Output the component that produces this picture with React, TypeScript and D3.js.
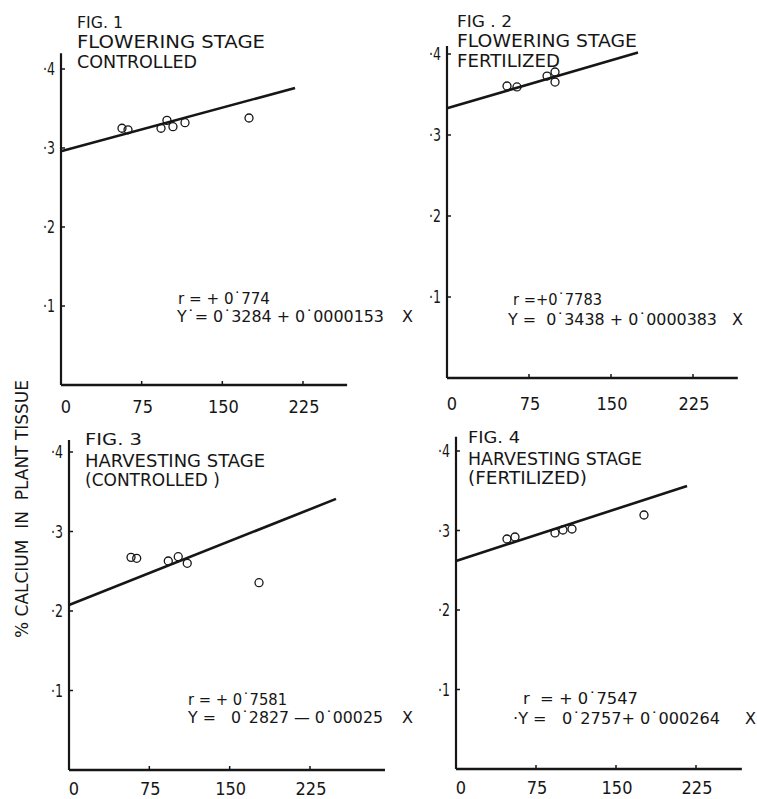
import React from "react";
import * as d3 from "d3";

// ---------- data ----------
const xTicks = [0, 75, 150, 225];
const xTickLabels = ["0", "75", "150", "225"];
const yTicks = [0.1, 0.2, 0.3, 0.4];
const yTickLabels = ["·1", "·2", "·3", "·4"];

const fig1X = [56.7, 62.3, 93, 98.5, 104.1, 115.3, 174.8];
const fig1Y = [0.325, 0.323, 0.325, 0.335, 0.327, 0.332, 0.338];
const fig1FitX = [0, 217.6];
const fig1FitY = [0.296, 0.376];

const fig2X = [54.9, 64.0, 91.5, 98.8, 98.8];
const fig2Y = [0.3605, 0.3593, 0.3728, 0.3778, 0.3654];
const fig2FitX = [0, 174.7];
const fig2FitY = [0.333, 0.402];

const fig3X = [57.9, 63.2, 92.7, 102.0, 110.4, 177.4];
const fig3Y = [0.2675, 0.2663, 0.2629, 0.2683, 0.26, 0.2356];
const fig3FitX = [0, 249.3];
const fig3FitY = [0.2075, 0.341];

const fig4X = [47.8, 55.3, 92.8, 100.3, 108.75, 176.25];
const fig4Y = [0.2893, 0.2918, 0.2969, 0.3006, 0.3019, 0.3195];
const fig4FitX = [0, 216.6];
const fig4FitY = [0.2616, 0.356];

const fig1Title = ["FIG. 1", "FLOWERING  STAGE", "CONTROLLED"];
const fig2Title = ["FIG . 2", "FLOWERING STAGE", "FERTILIZED"];
const fig3Title = ["FIG. 3", "HARVESTING STAGE", "(CONTROLLED )"];
const fig4Title = ["FIG. 4", "HARVESTING STAGE", "(FERTILIZED)"];

const eqR = ["r = + 0˙774", "r =+0˙7783", "r = + 0˙7581", "r  = + 0˙7547"];
const eqY = [
  "Y˙= 0˙3284 + 0˙0000153",
  "Y =  0˙3438 + 0˙0000383",
  "Y =   0˙2827 — 0˙00025",
  "·Y =   0˙2757+ 0˙000264",
];
const yAxisLabel = "% CALCIUM  IN  PLANT TISSUE";

// ---------- layout ----------
const layout = [
  { x0: 61, x225: 303, y0: 385, y04: 69, xMax: 266, yMax: 0.42, xLabelBase: 413,
    titleX: 77, titleBase: [28, 48, 68], titleW: [46, 188, 120],
    eqX: [178, 177], eqBase: [304, 322], eqW: [92, 207], xMarkX: 402 },
  { x0: 447, x225: 693, y0: 378, y04: 54, xMax: 266, yMax: 0.41, xLabelBase: 410,
    titleX: 457, titleBase: [27, 47, 67], titleW: [55, 180, 103],
    eqX: [513, 508], eqBase: [305, 325], eqW: [89, 209], xMarkX: 732 },
  { x0: 69, x225: 310, y0: 770, y04: 452, xMax: 295, yMax: 0.415, xLabelBase: 795,
    titleX: 85, titleBase: [445, 467, 486], titleW: [57, 180, 135],
    eqX: [188, 188], eqBase: [705, 723], eqW: [99, 195], xMarkX: 402 },
  { x0: 456, x225: 696, y0: 769, y04: 451, xMax: 268, yMax: 0.418, xLabelBase: 794,
    titleX: 468, titleBase: [443, 465, 484], titleW: [52, 174, 119],
    eqX: [523, 513], eqBase: [704, 724], eqW: [115, 207], xMarkX: 745 },
];

const figs = [
  { xs: fig1X, ys: fig1Y, fx: fig1FitX, fy: fig1FitY, title: fig1Title },
  { xs: fig2X, ys: fig2Y, fx: fig2FitX, fy: fig2FitY, title: fig2Title },
  { xs: fig3X, ys: fig3Y, fx: fig3FitX, fy: fig3FitY, title: fig3Title },
  { xs: fig4X, ys: fig4Y, fx: fig4FitX, fy: fig4FitY, title: fig4Title },
];

const FONT = "'DejaVu Sans', Arial, sans-serif";
const INK = "#161616";

function Panel({ i }: { i: number }) {
  const L = layout[i];
  const F = figs[i];
  const x = d3.scaleLinear().domain([0, 225]).range([L.x0, L.x225]);
  const y = d3.scaleLinear().domain([0, 0.4]).range([L.y0, L.y04]);
  const line = d3
    .line<number>()
    .x((d) => x(F.fx[d]))
    .y((d) => y(F.fy[d]));
  return (
    <g>
      {/* axes */}
      <line x1={x(0)} x2={x(0)} y1={y(0)} y2={y(L.yMax)} stroke={INK} strokeWidth={2.2} />
      <line x1={x(0)} x2={x(L.xMax)} y1={y(0)} y2={y(0)} stroke={INK} strokeWidth={2.4} />
      {yTicks.map((t, k) => (
        <g key={"yt" + k}>
          <line x1={x(0)} x2={x(0) + 4} y1={y(t)} y2={y(t)} stroke={INK} strokeWidth={1.5} />
          <text
            x={x(0) - 6}
            y={y(t) + 6}
            textAnchor="end"
            fontFamily={FONT}
            fontSize={17}
            fill={INK}
            textLength={12}
            lengthAdjust="spacingAndGlyphs"
          >
            {yTickLabels[k]}
          </text>
        </g>
      ))}
      {xTicks.map((t, k) => (
        <g key={"xt" + k}>
          {t > 0 && (
            <line x1={x(t)} x2={x(t)} y1={y(0)} y2={y(0) - 4} stroke={INK} strokeWidth={1.5} />
          )}
          <text
            x={x(t) + (t === 0 ? 5 : 1)}
            y={L.xLabelBase}
            textAnchor="middle"
            fontFamily={FONT}
            fontSize={18}
            fill={INK}
            textLength={xTickLabels[k].length * 10.3}
            lengthAdjust="spacingAndGlyphs"
          >
            {xTickLabels[k]}
          </text>
        </g>
      ))}
      {/* regression line */}
      <path d={line([0, 1]) || ""} stroke={INK} strokeWidth={2.6} fill="none" />
      {/* observations */}
      {F.xs.map((v, k) => (
        <circle key={"p" + k} cx={x(v)} cy={y(F.ys[k])} r={4} fill="none" stroke={INK} strokeWidth={1.3} />
      ))}
      {/* titles */}
      {F.title.map((s, k) => (
        <text
          key={"t" + k}
          x={L.titleX}
          y={L.titleBase[k]}
          fontFamily={FONT}
          fontSize={k === 0 ? 16 : 18}
          fill={INK}
          textLength={L.titleW[k]}
          lengthAdjust="spacingAndGlyphs"
        >
          {s}
        </text>
      ))}
      {/* equations */}
      <text
        x={L.eqX[0]}
        y={L.eqBase[0]}
        fontFamily={FONT}
        fontSize={15}
        fill={INK}
        textLength={L.eqW[0]}
        lengthAdjust="spacingAndGlyphs"
        xmlSpace="preserve"
      >
        {eqR[i]}
      </text>
      <text
        x={L.eqX[1]}
        y={L.eqBase[1]}
        fontFamily={FONT}
        fontSize={15}
        fill={INK}
        textLength={L.eqW[1]}
        lengthAdjust="spacingAndGlyphs"
        xmlSpace="preserve"
      >
        {eqY[i]}
      </text>
      <text x={L.xMarkX} y={L.eqBase[1]} fontFamily={FONT} fontSize={16} fill={INK}>
        X
      </text>
    </g>
  );
}

export default function App() {
  return (
    <svg
      width={757}
      height={799}
      viewBox="0 0 757 799"
      style={{ position: "absolute", left: 0, top: 0, background: "#fff" }}
    >
      <rect x={0} y={0} width={757} height={799} fill="#fff" />
      {layout.map((_, i) => (
        <Panel key={i} i={i} />
      ))}
      <text
        transform="translate(28,509) rotate(-90)"
        textAnchor="middle"
        fontFamily={FONT}
        fontSize={18}
        fill={INK}
        textLength={258}
        lengthAdjust="spacingAndGlyphs"
        xmlSpace="preserve"
      >
        {yAxisLabel}
      </text>
    </svg>
  );
}
